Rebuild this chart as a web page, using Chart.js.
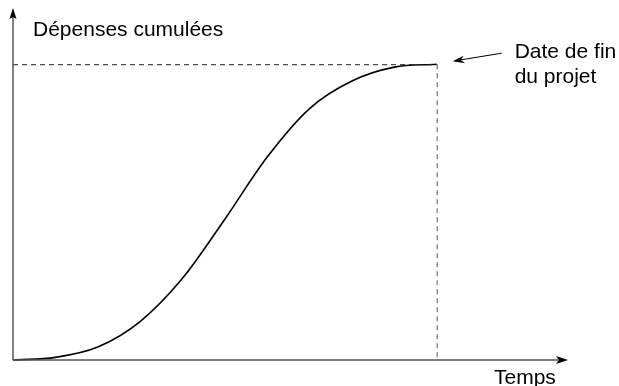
<!DOCTYPE html>
<html>
<head>
<meta charset="utf-8">
<script src="https://cdn.jsdelivr.net/npm/chart.js@4/dist/chart.umd.min.js"></script>
<style>
  html, body { margin: 0; padding: 0; background: #fff; }
  #wrap { width: 619px; height: 386px; }
</style>
</head>
<body>
<div id="wrap"><canvas id="sCurve"></canvas></div>
<script>
// temps (0 = debut, 100 = date de fin du projet)
const temps = [0, 10, 20, 30, 40, 50, 60, 70, 80, 90, 100];
// depenses cumulees (100 = total)
const depenses = [0, 0.9, 4.4, 13, 27.6, 47.6, 68.6, 85, 94.3, 99, 100];
const finProjet = 100;
const totalDepenses = 100;
const xMax = 131;
const yMax = 119;

const yLabel = 'Dépenses cumulées';
const xLabel = 'Temps';
const finLabel = ['Date de fin', 'du projet'];

const font = '21px "Liberation Sans", Arial, Helvetica, sans-serif';

const schema = {
    id: 'schema',
    afterDatasetsDraw(chart) {
        const ctx = chart.ctx;
        const x = chart.scales.x;
        const y = chart.scales.y;
        const x0 = x.getPixelForValue(0);
        const y0 = y.getPixelForValue(0);
        const xEnd = x.getPixelForValue(finProjet);
        const yTop = y.getPixelForValue(totalDepenses);
        const xArrow = x.getPixelForValue(xMax);
        const yArrow = y.getPixelForValue(yMax);

        ctx.save();

        // pointilles
        ctx.setLineDash([5, 4]);
        ctx.lineWidth = 1;
        ctx.strokeStyle = '#222';
        ctx.beginPath();
        ctx.moveTo(x0, yTop + 0.5);
        ctx.lineTo(xEnd, yTop + 0.5);
        ctx.stroke();
        ctx.strokeStyle = '#555';
        ctx.beginPath();
        ctx.moveTo(xEnd + 0.5, yTop);
        ctx.lineTo(xEnd + 0.5, y0);
        ctx.stroke();
        ctx.setLineDash([]);

        // axes
        ctx.strokeStyle = '#555';
        ctx.lineWidth = 1.5;
        ctx.beginPath();
        ctx.moveTo(x0, y0);
        ctx.lineTo(x0, yArrow + 6);
        ctx.moveTo(x0, y0);
        ctx.lineTo(xArrow - 8, y0);
        ctx.stroke();

        ctx.fillStyle = '#000';
        ctx.beginPath();
        ctx.moveTo(x0, yArrow);
        ctx.lineTo(x0 - 3.5, yArrow + 11);
        ctx.lineTo(x0, yArrow + 9);
        ctx.lineTo(x0 + 3.5, yArrow + 11);
        ctx.closePath();
        ctx.fill();

        ctx.beginPath();
        ctx.moveTo(xArrow, y0);
        ctx.lineTo(xArrow - 12, y0 - 4);
        ctx.lineTo(xArrow - 9, y0);
        ctx.lineTo(xArrow - 12, y0 + 4);
        ctx.closePath();
        ctx.fill();

        // fleche "date de fin"
        ctx.strokeStyle = '#000';
        ctx.lineWidth = 1;
        const ax = xEnd + 16, ay = yTop - 3;
        const bx = xEnd + 65, by = yTop - 11;
        ctx.beginPath();
        ctx.moveTo(ax + 8, ay - 1.3);
        ctx.lineTo(bx, by);
        ctx.stroke();
        ctx.beginPath();
        ctx.moveTo(ax, ay);
        ctx.lineTo(ax + 11, ay - 5.5);
        ctx.lineTo(ax + 8, ay - 1.3);
        ctx.lineTo(ax + 12.5, ay + 2);
        ctx.closePath();
        ctx.fill();

        // textes
        ctx.fillStyle = '#000';
        ctx.font = font;
        ctx.textBaseline = 'alphabetic';
        ctx.textAlign = 'left';
        ctx.fillText(yLabel, x0 + 20, 36);
        ctx.fillText(finLabel[0], xEnd + 78, 58);
        ctx.fillText(finLabel[1], xEnd + 78, 83);
        ctx.fillText(xLabel, xArrow - 74, y0 + 24);

        ctx.restore();
    }
};

const ctx = document.getElementById('sCurve').getContext('2d');

new Chart(ctx, {
    type: 'line',
    data: {
        datasets: [{
            data: temps.map((t, i) => ({ x: t, y: depenses[i] })),
            borderColor: '#000',
            borderWidth: 1.6,
            pointRadius: 0,
            cubicInterpolationMode: 'monotone',
            fill: false,
            clip: false
        }]
    },
    options: {
        responsive: true,
        maintainAspectRatio: false,
        animation: false,
        layout: { padding: { left: 13, right: 51, top: 8, bottom: 26 } },
        plugins: { legend: { display: false }, tooltip: { enabled: false } },
        scales: {
            x: { type: 'linear', min: 0, max: xMax, display: false },
            y: { type: 'linear', min: 0, max: yMax, display: false }
        }
    },
    plugins: [schema]
});
</script>
</body>
</html>
